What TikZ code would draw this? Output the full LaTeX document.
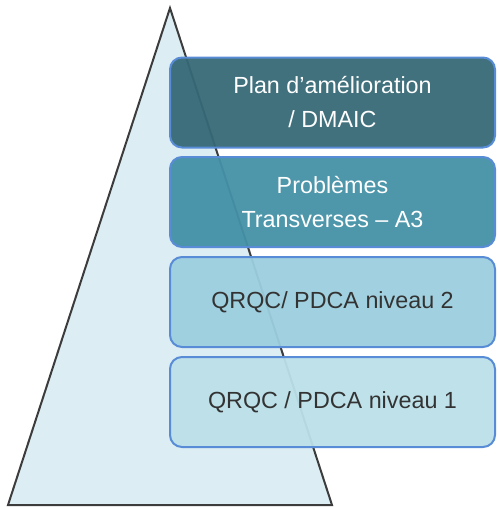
\documentclass[tikz,border=0pt]{standalone}
\usepackage{fontspec}
\setmainfont{Liberation Sans}
\usepackage{tikz}
\definecolor{tealdark}{RGB}{54,105,118}
\definecolor{tealmid}{RGB}{68,145,167}
\definecolor{bluelight}{RGB}{156,207,223}
\definecolor{bluepale}{RGB}{188,224,233}
\definecolor{boxedge}{RGB}{88,140,214}
\definecolor{trifill}{RGB}{220,238,244}
\tikzset{
  levelbox/.style={draw=boxedge, line width=1.5pt, rounded corners=9pt, fill opacity=0.95, text opacity=1,
    minimum width=243.75pt, minimum height=67.5pt, align=center, font=\fontsize{17.5}{25.5}\selectfont, inner sep=0pt}
}

\begin{document}
\begin{tikzpicture}[x=0.75pt,y=0.75pt,yscale=-1,xscale=1]
    \useasboundingbox (0,0) rectangle (497,507);

    %Shape: Triangle
    \draw [draw={rgb, 255:red, 60; green, 60; blue, 60 }, fill=trifill, line width=1.5pt, line join=miter] (170,8) -- (332,505) -- (8,505) -- cycle ;

    % Text Node
    \node [levelbox, fill=tealdark, text=white] (dmaic) at (332.5,102.5) {Plan d’amélioration\\/ DMAIC};
    % Text Node
    \node [levelbox, fill=tealmid, text=white] (atrois) at (332.5,202) {Problèmes\\Transverses – A3};
    % Text Node
    \node [levelbox, fill=bluelight, text={rgb, 255:red, 51; green, 51; blue, 51 }] (niveaudeux) at (332.5,302) {QRQC/ PDCA niveau 2};
    % Text Node
    \node [levelbox, fill=bluepale, text={rgb, 255:red, 51; green, 51; blue, 51 }] (niveauun) at (332.5,402) {QRQC / PDCA niveau 1};
\end{tikzpicture}
\end{document}
